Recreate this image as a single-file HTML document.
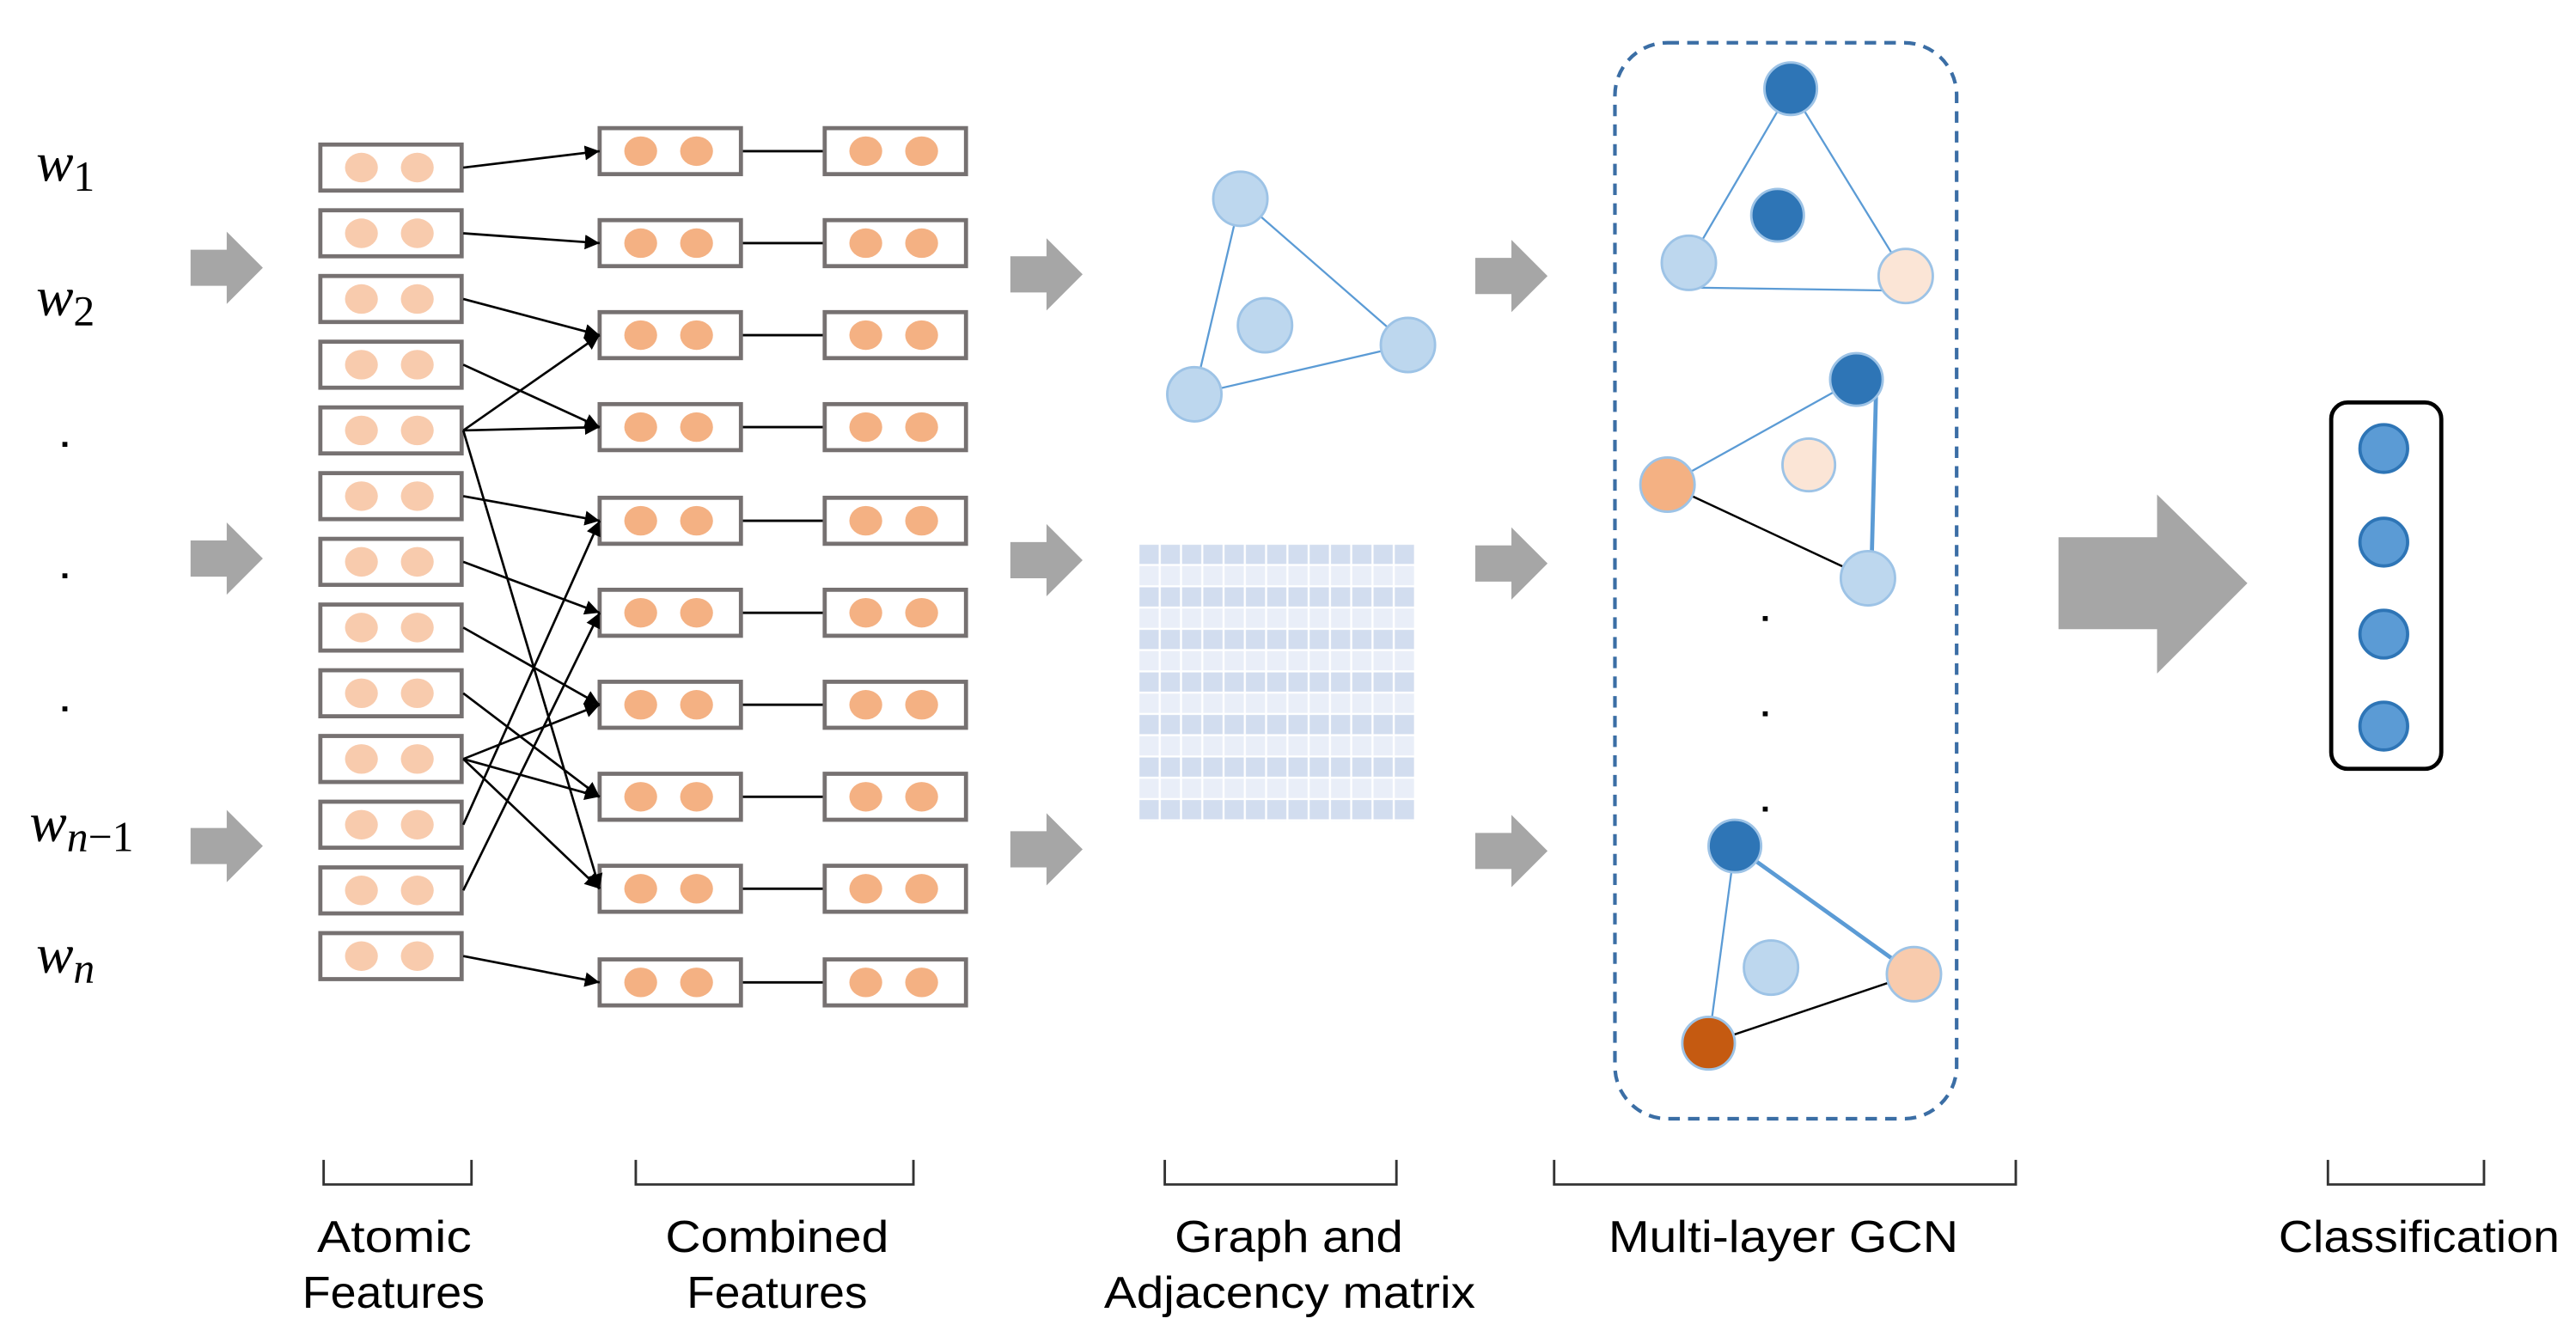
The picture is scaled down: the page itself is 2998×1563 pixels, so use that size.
<!DOCTYPE html>
<html><head><meta charset="utf-8"><style>html,body{margin:0;padding:0;background:#fff}svg{display:block}</style></head>
<body>
<svg width="2998" height="1563" viewBox="0 0 1568 817.5" preserveAspectRatio="none" xmlns="http://www.w3.org/2000/svg">
<defs>
<marker id="ah" viewBox="0 0 10 10" refX="10" refY="5" markerWidth="9" markerHeight="9" markerUnits="userSpaceOnUse" orient="auto"><path d="M0,0 L10,5 L0,10 z" fill="#000"/></marker>
<g id="ab"><rect x="0" y="0" width="86" height="28" fill="#fff" stroke="#767171" stroke-width="2.5"/><ellipse cx="25" cy="14" rx="10" ry="9" fill="#f8cbad"/><ellipse cx="59" cy="14" rx="10" ry="9" fill="#f8cbad"/></g>
<g id="cb"><rect x="0" y="0" width="86" height="28" fill="#fff" stroke="#767171" stroke-width="2.5"/><ellipse cx="25" cy="14" rx="10" ry="9" fill="#f4b183"/><ellipse cx="59" cy="14" rx="10" ry="9" fill="#f4b183"/></g>
<g id="sa"><path d="M0,-11 H22 V-22 L44,0 L22,22 V11 H0 z" fill="#a6a6a6"/></g>
<pattern id="mx" x="693" y="331" width="12.95" height="25.9" patternUnits="userSpaceOnUse">
<rect x="0.6" y="0.6" width="11.7" height="11.7" fill="#d2ddef"/><rect x="0.6" y="13.55" width="11.7" height="11.7" fill="#e9eef8"/></pattern>
</defs>

<!-- w labels -->
<g font-family="'Liberation Serif',serif" font-style="italic" font-size="34" fill="#000">
<text x="22" y="110">w<tspan font-style="normal" font-size="26" dy="6">1</tspan></text>
<text x="22" y="192">w<tspan font-style="normal" font-size="26" dy="6">2</tspan></text>
<text x="18" y="512">w<tspan font-size="26" dy="6">n</tspan><tspan font-style="normal" font-size="26">−1</tspan></text>
<text x="22" y="592">w<tspan font-size="26" dy="6">n</tspan></text>
</g>
<g fill="#000"><rect x="38" y="269" width="3" height="3"/><rect x="38" y="349" width="3" height="3"/><rect x="38" y="430" width="3" height="3"/></g>

<!-- small arrows -->
<use href="#sa" x="116" y="163"/><use href="#sa" x="116" y="340"/><use href="#sa" x="116" y="515"/>
<use href="#sa" x="615" y="167"/><use href="#sa" x="615" y="341"/><use href="#sa" x="615" y="517"/>
<use href="#sa" x="898" y="168"/><use href="#sa" x="898" y="343"/><use href="#sa" x="898" y="518"/>
<path d="M1253,327 H1313 V301 L1368,355 L1313,410 V383 H1253 z" fill="#a6a6a6"/>

<!-- atomic boxes -->
<use href="#ab" x="195" y="88"/><use href="#ab" x="195" y="128"/><use href="#ab" x="195" y="168"/><use href="#ab" x="195" y="208"/><use href="#ab" x="195" y="248"/><use href="#ab" x="195" y="288"/><use href="#ab" x="195" y="328"/><use href="#ab" x="195" y="368"/><use href="#ab" x="195" y="408"/><use href="#ab" x="195" y="448"/><use href="#ab" x="195" y="488"/><use href="#ab" x="195" y="528"/><use href="#ab" x="195" y="568"/>

<!-- combined boxes + links -->
<g stroke="#000" stroke-width="1.5">
<line x1="451" y1="92" x2="502" y2="92"/><line x1="451" y1="148" x2="502" y2="148"/><line x1="451" y1="204" x2="502" y2="204"/><line x1="451" y1="260" x2="502" y2="260"/><line x1="451" y1="317" x2="502" y2="317"/><line x1="451" y1="373" x2="502" y2="373"/><line x1="451" y1="429" x2="502" y2="429"/><line x1="451" y1="485" x2="502" y2="485"/><line x1="451" y1="541" x2="502" y2="541"/><line x1="451" y1="598" x2="502" y2="598"/>
</g>
<use href="#cb" x="365" y="78"/><use href="#cb" x="365" y="134"/><use href="#cb" x="365" y="190"/><use href="#cb" x="365" y="246"/><use href="#cb" x="365" y="303"/><use href="#cb" x="365" y="359"/><use href="#cb" x="365" y="415"/><use href="#cb" x="365" y="471"/><use href="#cb" x="365" y="527"/><use href="#cb" x="365" y="584"/>
<use href="#cb" x="502" y="78"/><use href="#cb" x="502" y="134"/><use href="#cb" x="502" y="190"/><use href="#cb" x="502" y="246"/><use href="#cb" x="502" y="303"/><use href="#cb" x="502" y="359"/><use href="#cb" x="502" y="415"/><use href="#cb" x="502" y="471"/><use href="#cb" x="502" y="527"/><use href="#cb" x="502" y="584"/>

<!-- connections -->
<g stroke="#000" stroke-width="1.4" marker-end="url(#ah)">
<line x1="282" y1="102" x2="365" y2="92"/>
<line x1="282" y1="142" x2="365" y2="148"/>
<line x1="282" y1="182" x2="365" y2="204"/>
<line x1="282" y1="222" x2="365" y2="260"/>
<line x1="282" y1="262" x2="365" y2="204"/>
<line x1="282" y1="262" x2="365" y2="260"/>
<line x1="282" y1="262" x2="365" y2="541"/>
<line x1="282" y1="302" x2="365" y2="317"/>
<line x1="282" y1="342" x2="365" y2="373"/>
<line x1="282" y1="382" x2="365" y2="429"/>
<line x1="282" y1="422" x2="365" y2="485"/>
<line x1="282" y1="462" x2="365" y2="429"/>
<line x1="282" y1="462" x2="365" y2="485"/>
<line x1="282" y1="462" x2="365" y2="541"/>
<line x1="282" y1="502" x2="365" y2="317"/>
<line x1="282" y1="542" x2="365" y2="373"/>
<line x1="282" y1="582" x2="365" y2="598"/>
</g>

<!-- graph -->
<g stroke="#5b9bd5" stroke-width="1.2"><line x1="755" y1="121" x2="857" y2="210"/><line x1="857" y1="210" x2="727" y2="240"/><line x1="727" y1="240" x2="755" y2="121"/></g>
<g fill="#bdd7ee" stroke="#9dc3e6" stroke-width="1.5"><circle cx="755" cy="121" r="16.5"/><circle cx="770" cy="198" r="16.5"/><circle cx="857" cy="210" r="16.5"/><circle cx="727" cy="240" r="16.5"/></g>
<rect x="693" y="331" width="168.4" height="169" fill="url(#mx)"/>

<!-- GCN -->
<rect x="983" y="26" width="208" height="655" rx="32" fill="none" stroke="#3b6ea5" stroke-width="2.2" stroke-dasharray="7,5"/>
<g stroke="#5b9bd5" stroke-width="1.2"><line x1="1090" y1="54" x2="1028" y2="160"/><line x1="1090" y1="54" x2="1160" y2="168"/><line x1="1028" y1="175" x2="1160" y2="177"/></g>
<g stroke-width="1.5" stroke="#9dc3e6"><circle cx="1090" cy="54" r="16" fill="#2e75b6"/><circle cx="1082" cy="131" r="16" fill="#2e75b6"/><circle cx="1028" cy="160" r="16.5" fill="#bdd7ee"/><circle cx="1160" cy="168" r="16.5" fill="#fbe5d6"/></g>
<line x1="1130" y1="231" x2="1015" y2="295" stroke="#5b9bd5" stroke-width="1.2"/>
<line x1="1142" y1="236" x2="1139" y2="352" stroke="#5b9bd5" stroke-width="2.5"/>
<line x1="1015" y1="295" x2="1137" y2="352" stroke="#000" stroke-width="1.3"/>
<g stroke-width="1.5" stroke="#9dc3e6"><circle cx="1130" cy="231" r="16" fill="#2e75b6"/><circle cx="1101" cy="283" r="16" fill="#fbe5d6"/><circle cx="1015" cy="295" r="16.5" fill="#f4b183"/><circle cx="1137" cy="352" r="16.5" fill="#bdd7ee"/></g>
<g fill="#000"><rect x="1073" y="375" width="3" height="3"/><rect x="1073" y="433" width="3" height="3"/><rect x="1073" y="491" width="3" height="3"/></g>
<line x1="1056" y1="515" x2="1040" y2="635" stroke="#5b9bd5" stroke-width="1.2"/>
<line x1="1056" y1="515" x2="1165" y2="593" stroke="#5b9bd5" stroke-width="2.5"/>
<line x1="1040" y1="635" x2="1165" y2="593" stroke="#000" stroke-width="1.3"/>
<g stroke-width="1.5" stroke="#9dc3e6"><circle cx="1056" cy="515" r="16" fill="#2e75b6"/><circle cx="1078" cy="589" r="16.5" fill="#bdd7ee"/><circle cx="1165" cy="593" r="16.5" fill="#f8cbad"/><circle cx="1040" cy="635" r="16" fill="#c55a11"/></g>

<!-- classification -->
<rect x="1419" y="245" width="67" height="223" rx="10" fill="#fff" stroke="#000" stroke-width="2.5"/>
<g fill="#5b9bd5" stroke="#2e75b6" stroke-width="2"><circle cx="1451" cy="273" r="14.5"/><circle cx="1451" cy="330" r="14.5"/><circle cx="1451" cy="386" r="14.5"/><circle cx="1451" cy="442" r="14.5"/></g>

<!-- brackets -->
<g fill="none" stroke="#333" stroke-width="1.5">
<path d="M197,706 V721 H287 V706"/><path d="M387,706 V721 H556 V706"/><path d="M709,706 V721 H850 V706"/><path d="M946,706 V721 H1227 V706"/><path d="M1417,706 V721 H1512 V706"/>
</g>
<g font-family="'Liberation Sans',sans-serif" font-size="27" fill="#000">
<text x="193" y="762" textLength="94" lengthAdjust="spacingAndGlyphs">Atomic</text><text x="184" y="796" textLength="111" lengthAdjust="spacingAndGlyphs">Features</text>
<text x="405" y="762" textLength="136" lengthAdjust="spacingAndGlyphs">Combined</text><text x="418" y="796" textLength="110" lengthAdjust="spacingAndGlyphs">Features</text>
<text x="715" y="762" textLength="139" lengthAdjust="spacingAndGlyphs">Graph and</text><text x="672" y="796" textLength="226" lengthAdjust="spacingAndGlyphs">Adjacency matrix</text>
<text x="979" y="762" textLength="213" lengthAdjust="spacingAndGlyphs">Multi-layer GCN</text>
<text x="1387" y="762" textLength="171" lengthAdjust="spacingAndGlyphs">Classification</text>
</g>
</svg>
</body></html>
